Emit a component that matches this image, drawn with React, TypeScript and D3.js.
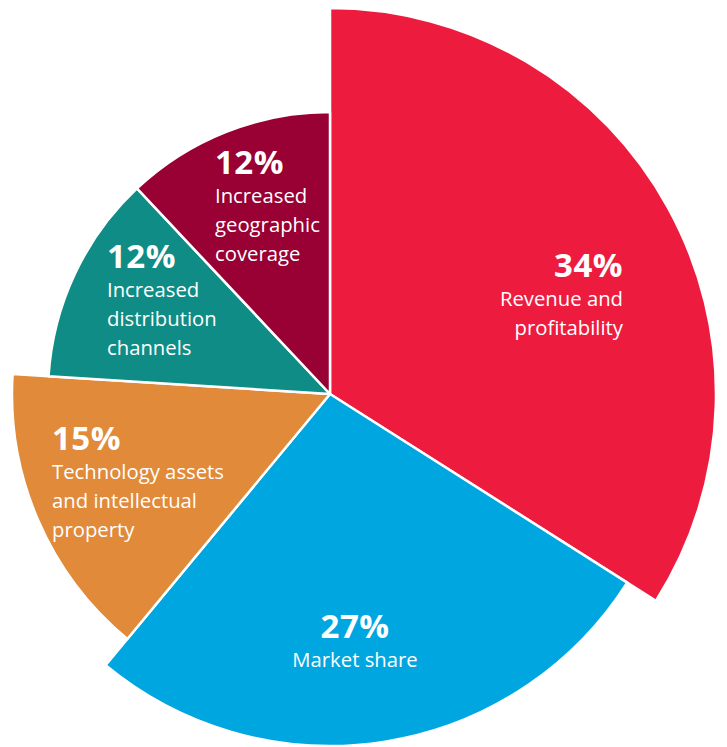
import React from "react";
import * as d3 from "d3";

const categories = [
  "Revenue and profitability",
  "Market share",
  "Technology assets and intellectual property",
  "Increased distribution channels",
  "Increased geographic coverage",
];
const values = [34, 27, 15, 12, 12];
const percentLabels = ["34%", "27%", "15%", "12%", "12%"];
const labelLines = [
  ["Revenue and", "profitability"],
  ["Market share"],
  ["Technology assets", "and intellectual", "property"],
  ["Increased", "distribution", "channels"],
  ["Increased", "geographic", "coverage"],
];
const colors = ["#ED1C3F", "#00A6DF", "#E08A3A", "#0F8C85", "#990033"];
// style: outer radius of each wedge
const outerRadii = [386, 352, 318, 282, 282];
// layout: label anchor offsets relative to centre
const labelLayout = [
  { dx: 293, dy: -117, anchor: "end" },
  { dx: 25, dy: 244, anchor: "middle" },
  { dx: -278, dy: 56, anchor: "start" },
  { dx: -223, dy: -126, anchor: "start" },
  { dx: -115, dy: -220, anchor: "start" },
];

const W = 727;
const H = 747;
const cx = 330;
const cy = 394;

export default function App() {
  const pie = d3
    .pie<number>()
    .sort(null)
    .value((d) => d)
    .startAngle(0)
    .endAngle(2 * Math.PI);
  const arcs = pie(values);
  const font = "'Open Sans', 'Noto Sans', sans-serif";
  return (
    <svg
      width={W}
      height={H}
      style={{ position: "absolute", left: 0, top: 0, display: "block", background: "#fff" }}
    >
      <g transform={`translate(${cx},${cy})`}>
        {arcs.map((a, i) => {
          const path = d3.arc<any>().innerRadius(0).outerRadius(outerRadii[i])(a) || "";
          return (
            <path
              key={categories[i]}
              d={path}
              fill={colors[i]}
              stroke="#fff"
              strokeWidth={2.5}
              strokeLinejoin="round"
            />
          );
        })}
        {arcs.map((a, i) => {
          const l = labelLayout[i];
          return (
            <text
              key={"t" + i}
              x={l.dx}
              y={l.dy}
              textAnchor={l.anchor as any}
              fill="#fff"
              fontFamily={font}
            >
              <tspan x={l.dx} fontSize={33} fontWeight={700} letterSpacing={0.5}>
                {percentLabels[i]}
              </tspan>
              {labelLines[i].map((ln, j) => (
                <tspan key={j} x={l.dx} dy={29} fontSize={20.3}>
                  {ln}
                </tspan>
              ))}
            </text>
          );
        })}
      </g>
    </svg>
  );
}
